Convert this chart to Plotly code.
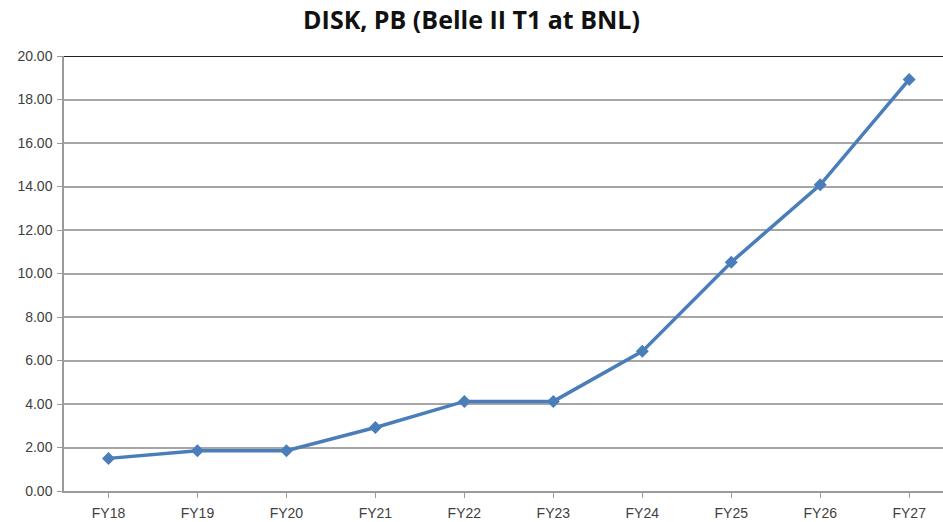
import plotly.graph_objects as go

categories = ["FY18", "FY19", "FY20", "FY21", "FY22", "FY23", "FY24", "FY25", "FY26", "FY27"]
disk_pb = [1.5, 1.85, 1.85, 2.92, 4.12, 4.12, 6.42, 10.52, 14.08, 18.92]
y_ticks = [0, 2, 4, 6, 8, 10, 12, 14, 16, 18, 20]
y_tick_labels = [f"{v:.2f}" for v in y_ticks]

fig = go.Figure()
fig.add_trace(go.Scatter(
    x=list(range(len(categories))), y=disk_pb, mode="lines+markers",
    line=dict(color="#4a7ebb", width=3.5),
    marker=dict(symbol="diamond", size=10, color="#4a7ebb"),
    showlegend=False,
))

fig.update_layout(
    width=943, height=522,
    margin=dict(l=64, r=0, t=56, b=31),
    paper_bgcolor="white", plot_bgcolor="white",
    title=dict(text="<b>DISK, PB (Belle II T1 at BNL)</b>", x=0.5, xanchor="center",
               y=0.962, yanchor="middle",
               font=dict(family="Open Sans, Liberation Sans, sans-serif", size=25, color="#111111")),
    font=dict(family="Liberation Sans, sans-serif", size=14, color="#404040"),
    xaxis=dict(
        tickmode="array", tickvals=list(range(len(categories))), ticktext=categories,
        range=[-0.5, 9.38], showgrid=False, zeroline=False,
        showline=True, linecolor="#9a9a9a", linewidth=1.5,
        ticks="outside", ticklen=5, tickcolor="#9a9a9a",
        tickfont=dict(size=14, color="#404040"),
        ticklabelstandoff=3,
    ),
    yaxis=dict(
        range=[0, 20], tickmode="array", tickvals=y_ticks, ticktext=y_tick_labels,
        showgrid=True, gridcolor="#a6a6a6", gridwidth=1.5, zeroline=False,
        showline=True, linecolor="#9a9a9a", linewidth=1.5,
        ticks="outside", ticklen=5, tickcolor="#9a9a9a",
        tickfont=dict(size=14, color="#404040"),
        ticklabelstandoff=2,
    ),
)
fig.update_xaxes(tickson="boundaries")
fig.add_shape(type="line", xref="paper", yref="y", x0=0, x1=1, y0=20, y1=20,
              line=dict(color="#222222", width=2))

fig.write_html("out.html", config={"displayModeBar": False},
               post_script="document.body.style.margin='0';")
